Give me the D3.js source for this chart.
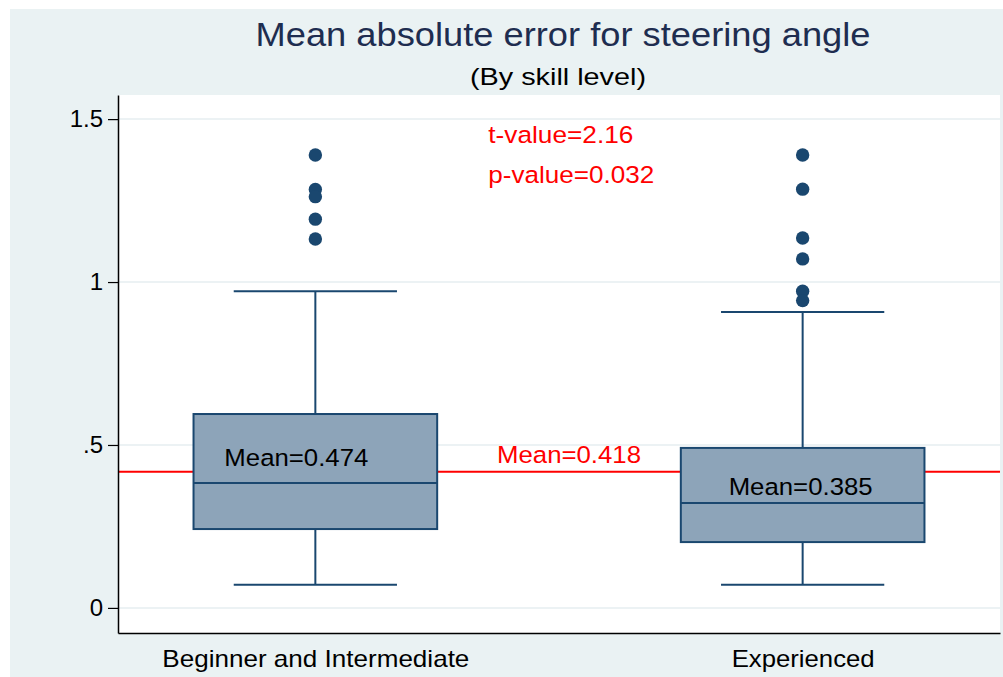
<!DOCTYPE html>
<html>
<head>
<meta charset="utf-8">
<script src="https://cdn.jsdelivr.net/npm/d3@7/dist/d3.min.js"></script>
<style>
  body { margin: 0; background: #fff; }
  text { font-family: "Liberation Sans", Arial, sans-serif; }
</style>
</head>
<body>
<div id="chart"></div>
<script>
// values
const groups = ["Beginner and Intermediate", "Experienced"];
const lowerWhisker = [0.071, 0.071];
const q1 = [0.242, 0.202];
const median = [0.383, 0.322];
const q3 = [0.595, 0.491];
const upperWhisker = [0.972, 0.908];
const outliersBeginner = [1.390, 1.284, 1.262, 1.193, 1.132];
const outliersExperienced = [1.390, 1.285, 1.135, 1.071, 0.972, 0.943];
const groupMeans = [0.474, 0.385];
const overallMean = 0.418;
const tValue = "2.16";
const pValue = "0.032";
const yTicks = [0, 0.5, 1, 1.5];
const yTickLabels = ["0", ".5", "1", "1.5"];

const width = 1003, height = 677;
const plot = {left: 118, right: 1000, top: 95, bottom: 633};
const navy = "#1a476f", boxFill = "#8da4b9", bg = "#eaf2f3";

const svg = d3.select("#chart").append("svg")
    .attr("width", width)
    .attr("height", height);

// outer background, plot region
svg.append("rect").attr("x", 10).attr("y", 9)
    .attr("width", width - 10).attr("height", height - 9).attr("fill", bg);
svg.append("rect").attr("x", plot.left).attr("y", plot.top)
    .attr("width", plot.right - plot.left).attr("height", plot.bottom - plot.top)
    .attr("fill", "#fff");

const x = d3.scalePoint().domain(groups)
    .range([plot.left, plot.right]).padding(0.405);
const y = d3.scaleLinear().domain([-0.077, 1.574])
    .range([plot.bottom, plot.top]);

const boxW = x.step() * 0.5;
const capW = x.step() * 0.335;

// gridlines
svg.append("g").selectAll("line")
    .data(yTicks)
    .join("line")
    .attr("x1", plot.left).attr("x2", plot.right)
    .attr("y1", d => y(d)).attr("y2", d => y(d))
    .attr("stroke", "#e6eef1").attr("stroke-width", 1.5);

// overall mean line (behind boxes)
svg.append("line")
    .attr("x1", plot.left).attr("x2", plot.right)
    .attr("y1", y(overallMean)).attr("y2", y(overallMean))
    .attr("stroke", "#ff0000").attr("stroke-width", 2);

const boxes = groups.map((g, i) => ({
    g, lo: lowerWhisker[i], q1: q1[i], med: median[i], q3: q3[i], hi: upperWhisker[i],
    mean: groupMeans[i],
    out: i === 0 ? outliersBeginner : outliersExperienced
}));

const bx = svg.append("g").selectAll("g")
    .data(boxes)
    .join("g");

// whiskers
bx.append("line")
    .attr("x1", d => x(d.g)).attr("x2", d => x(d.g))
    .attr("y1", d => y(d.hi)).attr("y2", d => y(d.lo))
    .attr("stroke", navy).attr("stroke-width", 2);
bx.selectAll(".cap")
    .data(d => [d.lo, d.hi].map(v => ({g: d.g, v})))
    .join("line")
    .attr("class", "cap")
    .attr("x1", d => x(d.g) - capW / 2).attr("x2", d => x(d.g) + capW / 2)
    .attr("y1", d => y(d.v)).attr("y2", d => y(d.v))
    .attr("stroke", navy).attr("stroke-width", 2);

// box + median
bx.append("rect")
    .attr("x", d => x(d.g) - boxW / 2)
    .attr("width", boxW)
    .attr("y", d => y(d.q3))
    .attr("height", d => y(d.q1) - y(d.q3))
    .attr("fill", boxFill).attr("stroke", navy).attr("stroke-width", 2);
bx.append("line")
    .attr("x1", d => x(d.g) - boxW / 2).attr("x2", d => x(d.g) + boxW / 2)
    .attr("y1", d => y(d.med)).attr("y2", d => y(d.med))
    .attr("stroke", navy).attr("stroke-width", 2);

// outside values
bx.selectAll("circle")
    .data(d => d.out.map(v => ({g: d.g, v})))
    .join("circle")
    .attr("cx", d => x(d.g)).attr("cy", d => y(d.v))
    .attr("r", 6.7).attr("fill", navy);

// group mean labels
const meanDx = [-19, -2];
bx.append("text")
    .attr("x", (d, i) => x(d.g) + meanDx[i])
    .attr("y", d => y(d.mean) + 13)
    .attr("text-anchor", "middle")
    .attr("font-size", 24.5)
    .attr("textLength", 144).attr("lengthAdjust", "spacingAndGlyphs")
    .attr("fill", "#000")
    .text(d => `Mean=${d.mean.toFixed(3)}`);

// axes
const yAxis = svg.append("g")
    .attr("transform", `translate(${plot.left},0)`)
    .call(d3.axisLeft(y).tickValues(yTicks)
        .tickFormat((d, i) => yTickLabels[i]).tickSize(10).tickSizeOuter(0).tickPadding(5));
yAxis.select(".domain").attr("stroke", "#000").attr("stroke-width", 1.5);
yAxis.selectAll(".tick line").attr("stroke", "#000").attr("stroke-width", 1.2);
yAxis.selectAll(".tick text").attr("font-size", 24).attr("fill", "#000")
    .attr("font-family", null);

const xAxis = svg.append("g")
    .attr("transform", `translate(0,${plot.bottom})`)
    .call(d3.axisBottom(x).tickSize(0).tickSizeOuter(0).tickPadding(0));
xAxis.select(".domain").attr("stroke", "#000").attr("stroke-width", 1.5);
xAxis.selectAll(".tick text")
    .attr("font-size", 24).attr("fill", "#000").attr("font-family", null)
    .attr("dy", null).attr("y", 34)
    .attr("textLength", d => d === groups[0] ? 307 : 143)
    .attr("lengthAdjust", "spacingAndGlyphs");

// overall mean and test annotations
const mid = (x(groups[0]) + x(groups[1])) / 2;
svg.append("text")
    .attr("x", mid + 10).attr("y", y(overallMean) - 9)
    .attr("text-anchor", "middle").attr("font-size", 24.5).attr("fill", "#ff0000")
    .attr("textLength", 144).attr("lengthAdjust", "spacingAndGlyphs")
    .text(`Mean=${overallMean.toFixed(3)}`);

const annoX = x(groups[0]) + x.step() * 0.355;
svg.append("text")
    .attr("x", annoX).attr("y", y(1.428))
    .attr("font-size", 24.5).attr("fill", "#ff0000")
    .attr("textLength", 145).attr("lengthAdjust", "spacingAndGlyphs")
    .text(`t-value=${tValue}`);
svg.append("text")
    .attr("x", annoX).attr("y", y(1.305))
    .attr("font-size", 24.5).attr("fill", "#ff0000")
    .attr("textLength", 166).attr("lengthAdjust", "spacingAndGlyphs")
    .text(`p-value=${pValue}`);

// titles
const titleX = 563;
svg.append("text")
    .attr("x", titleX).attr("y", 46)
    .attr("text-anchor", "middle").attr("font-size", 34).attr("fill", "#1e2d50")
    .attr("textLength", 615).attr("lengthAdjust", "spacingAndGlyphs")
    .text("Mean absolute error for steering angle");
svg.append("text")
    .attr("x", titleX - 5).attr("y", 85)
    .attr("text-anchor", "middle").attr("font-size", 24).attr("fill", "#000")
    .attr("textLength", 176).attr("lengthAdjust", "spacingAndGlyphs")
    .text("(By skill level)");
</script>
</body>
</html>
